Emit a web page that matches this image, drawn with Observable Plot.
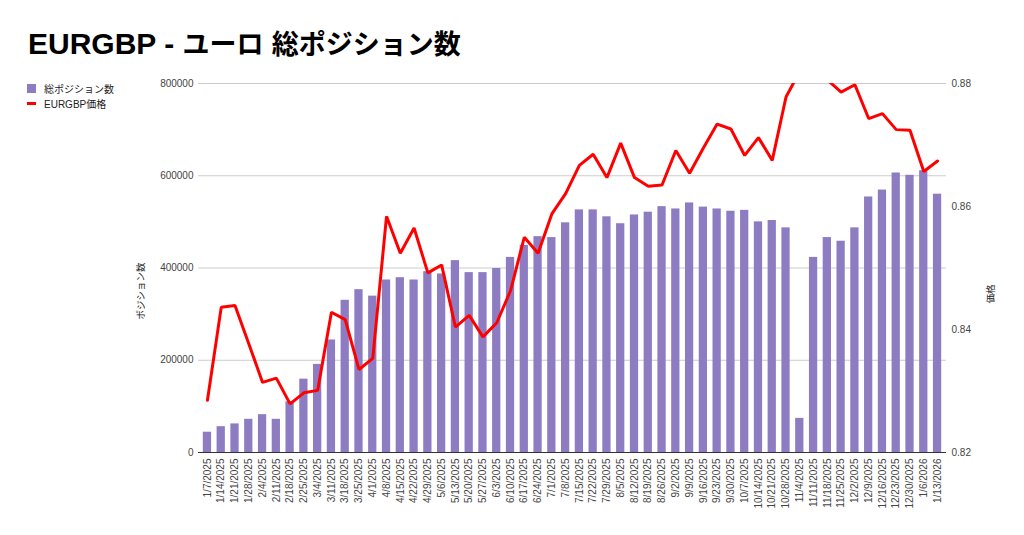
<!DOCTYPE html>
<html>
<head>
<meta charset="utf-8">
<script src="https://cdn.jsdelivr.net/npm/d3@7"></script>
<script src="https://cdn.jsdelivr.net/npm/@observablehq/plot@0.6"></script>
<style>
  body { margin: 0; background: #fff; font-family: "Liberation Sans", Arial, "Noto Sans CJK JP", sans-serif; }
  #wrap { position: relative; width: 1024px; height: 535px; overflow: hidden; }
  #title { height: 70px; box-sizing: border-box; padding: 28px 0 0 28px; font-size: 30px; line-height: 30px; font-weight: bold; color: #000; white-space: nowrap; }
  #title .cjk { font-size: 27px; font-family: "Noto Sans CJK JP", sans-serif; }
  .leg { position: absolute; left: 27px; font-size: 10px; color: #222; display: flex; align-items: center; white-space: nowrap; }
  .sw { width: 9px; height: 9px; background: #8e7cc3; margin-right: 8px; }
  .ln { width: 9px; height: 3px; background: #ff0000; margin-right: 8px; }
  .atitle { position: absolute; font-size: 9.5px; color: #222; white-space: nowrap; transform: translate(-50%, -50%) rotate(-90deg); }
</style>
</head>
<body>
<div id="wrap">
  <div id="title">EURGBP - <span class="cjk">ユーロ</span>&nbsp;<span class="cjk">総ポジション数</span></div>
  <div class="leg" style="top:81px"><div class="sw"></div>総ポジション数</div>
  <div class="leg" style="top:96px"><div class="ln"></div>EURGBP価格</div>
  <div class="atitle" style="left:140px; top:291px">ポジション数</div>
  <div class="atitle" style="left:990px; top:294px">価格</div>
  <div id="chart"></div>
</div>
<script>
const dates = ["1/7/2025","1/14/2025","1/21/2025","1/28/2025","2/4/2025","2/11/2025","2/18/2025","2/25/2025","3/4/2025","3/11/2025","3/18/2025","3/25/2025","4/1/2025","4/8/2025","4/15/2025","4/22/2025","4/29/2025","5/6/2025","5/13/2025","5/20/2025","5/27/2025","6/3/2025","6/10/2025","6/17/2025","6/24/2025","7/1/2025","7/8/2025","7/15/2025","7/22/2025","7/29/2025","8/5/2025","8/12/2025","8/19/2025","8/26/2025","9/2/2025","9/9/2025","9/16/2025","9/23/2025","9/30/2025","10/7/2025","10/14/2025","10/21/2025","10/28/2025","11/4/2025","11/11/2025","11/18/2025","11/25/2025","12/2/2025","12/9/2025","12/16/2025","12/23/2025","12/30/2025","1/6/2026","1/13/2026"];

const positions = [44000,56000,62000,72000,82000,72000,110000,159000,191000,244000,330000,353000,339000,374000,379000,374000,392000,387000,416000,390000,390000,399000,423000,449000,468000,466000,498000,526000,526000,511000,496000,515000,521000,533000,528000,541000,532000,528000,523000,525000,500000,503000,487000,74000,423000,466000,458000,487000,554000,569000,606000,601000,611000,560000];

const prices = [0.8285,0.8436,0.8439,0.8377,0.8314,0.8321,0.8279,0.8297,0.8301,0.8428,0.8416,0.8335,0.8353,0.8584,0.8524,0.8565,0.8492,0.8505,0.8404,0.8423,0.8388,0.8411,0.8463,0.8550,0.8524,0.8588,0.8621,0.8667,0.8685,0.8647,0.8703,0.8647,0.8633,0.8635,0.8691,0.8654,0.8695,0.8734,0.8726,0.8683,0.8712,0.8675,0.8778,0.8820,0.8825,0.8806,0.8786,0.8798,0.8743,0.8751,0.8725,0.8724,0.8657,0.8674];

const leftTicks = [0, 200000, 400000, 600000, 800000];
const priceTicks = [0.82, 0.84, 0.86, 0.88];

const leftMax = 800000;
const pMin = 0.82, pMax = 0.88;
const toLeft = p => (p - pMin) / (pMax - pMin) * leftMax;
const toPrice = v => pMin + v / leftMax * (pMax - pMin);

const rows = dates.map((d, i) => ({date: d, pos: positions[i], price: toLeft(prices[i])}));

const chart = Plot.plot({
  width: 1024,
  height: 465,
  marginTop: 13,
  marginBottom: 83,
  marginLeft: 198,
  marginRight: 78,
  style: {fontFamily: '"Liberation Sans", Arial, sans-serif', fontSize: "10px", color: "#444", background: "#fff"},
  x: {type: "band", domain: dates, paddingInner: 0.4, paddingOuter: 0.35, label: null},
  y: {domain: [0, leftMax], label: null},
  marks: [
    Plot.ruleY(leftTicks.filter(t => t > 0), {stroke: "#ccc", strokeWidth: 1}),
    Plot.barY(rows, {x: "date", y: "pos", fill: "#8e7cc3"}),
    Plot.ruleY([0], {stroke: "#333", strokeWidth: 1}),
    Plot.lineY(rows, {x: "date", y: "price", stroke: "#ff0000", strokeWidth: 3, clip: true, strokeLinejoin: "miter"}),
    Plot.axisY(leftTicks, {anchor: "left", tickSize: 0, tickPadding: 5, tickFormat: d => String(d), label: null, fill: "#444"}),
    Plot.axisY(priceTicks.map(toLeft), {anchor: "right", tickSize: 0, tickPadding: 5, tickFormat: d => toPrice(d).toFixed(2), label: null, fill: "#444"}),
    Plot.axisX({tickRotate: -90, tickSize: 0, tickPadding: 6, label: null, fill: "#444"})
  ]
});
document.getElementById("chart").appendChild(chart);
</script>
</body>
</html>
